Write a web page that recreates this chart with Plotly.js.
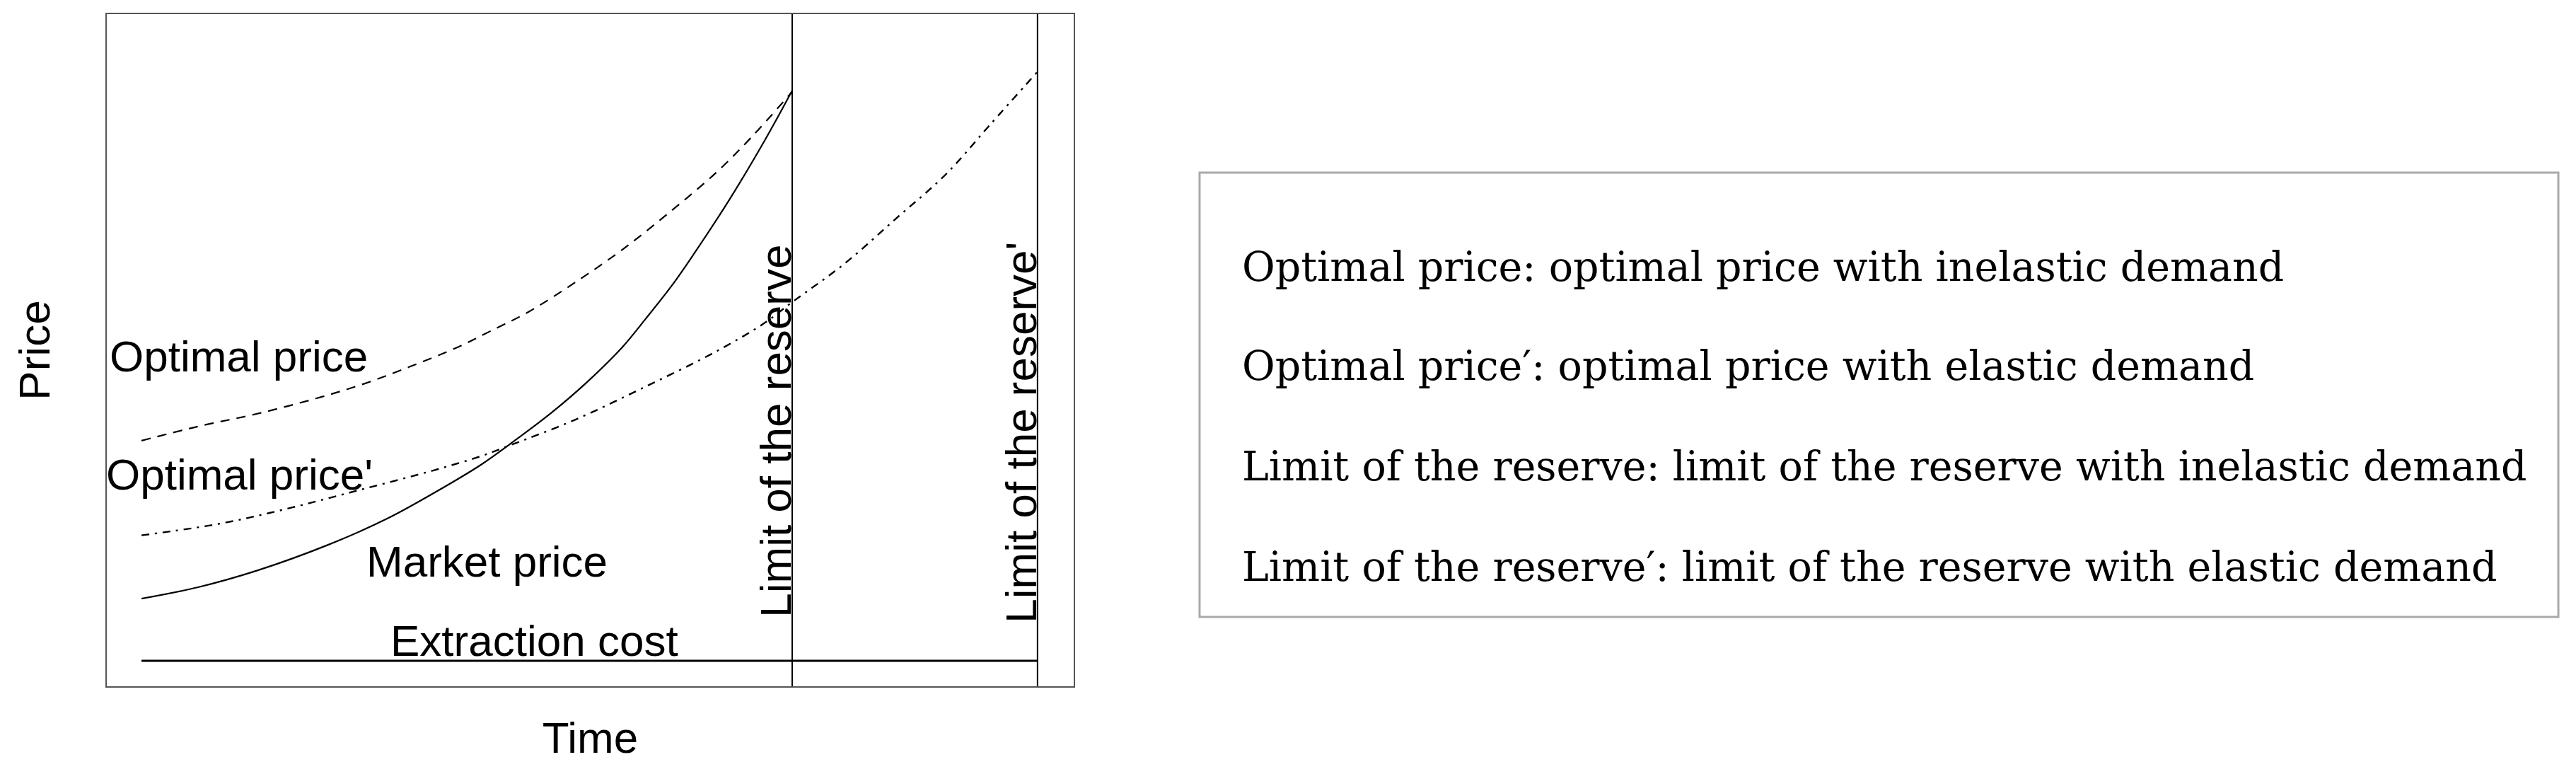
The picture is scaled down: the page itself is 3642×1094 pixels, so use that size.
<!DOCTYPE html>
<html>
<head>
<meta charset="utf-8">
<script src="https://cdn.plot.ly/plotly-3.0.1.min.js"></script>
<style>html,body{margin:0;padding:0;background:#fff;}#chart{width:3642px;height:1094px;}</style>
</head>
<body>
<div id="chart"></div>
<script>
// ---- data (time units, price units) ----
const marketTime  = [0, 0.87, 1.77, 2.86, 3.77, 4.49, 5.22, 5.65, 6.30, 6.85, 7.39, 7.75, 8.15, 8.48, 9.02, 9.57, 10];
const marketPrice = [10.9, 12.9, 15.8, 20.3, 24.9, 29.4, 34.4, 37.9, 43.5, 48.9, 55.0, 60.0, 65.8, 71.2, 80.6, 91.1, 100];

const optimalTime  = [0, 0.87, 1.77, 2.68, 3.40, 4.13, 4.86, 5.36, 5.95, 6.67, 7.39, 8.12, 8.84, 9.38, 10];
const optimalPrice = [38.6, 41.1, 43.3, 46.0, 48.5, 51.6, 55.0, 57.8, 61.2, 66.4, 72.1, 78.7, 85.7, 91.9, 99.8];

const optimal2Time  = [0, 1.23, 2.32, 3.40, 4.49, 5.22, 5.69, 6.67, 7.75, 8.84, 9.57, 10.0, 10.80, 11.59, 12.36, 13.04, 13.77];
const optimal2Price = [22.0, 24.1, 26.9, 30.1, 33.4, 35.9, 37.9, 42.3, 48.1, 54.3, 59.2, 62.9, 69.6, 77.5, 85.3, 94.0, 103.3];

const extractionTime = [0, 13.77];
const extractionCost = [0, 0];

const reserveLimits = [10, 13.77];

const curveLabels = ["Optimal price", "Optimal price'", "Market price", "Extraction cost"];
const curveLabelTime = [-0.51, -0.51, 3.43, 3.80];
const curveLabelPrice = [53.4, 32.7, 17.4, 3.57];

const limitLabels = ["Limit of the reserve", "Limit of the reserve'"];
const limitLabelTime = [9.745, 13.52];
const limitLabelPrice = [40.3, 40.1];

const legendLines = [
  "Optimal price: optimal price with inelastic demand",
  "Optimal price\u2032: optimal price with elastic demand",
  "Limit of the reserve: limit of the reserve with inelastic demand",
  "Limit of the reserve\u2032: limit of the reserve with elastic demand"
];

// ---- chart ----
const sans = "'Liberation Sans', Arial, sans-serif";
const serif = "'DejaVu Serif', serif";

const traces = [
  {x: extractionTime, y: extractionCost, mode: 'lines', line: {color: '#000', width: 3}, hoverinfo: 'skip'},
  {x: optimalTime, y: optimalPrice, mode: 'lines', line: {color: '#000', width: 2.2, dash: '13px,10px', shape: 'spline', smoothing: 1}},
  {x: optimal2Time, y: optimal2Price, mode: 'lines', line: {color: '#000', width: 2.4, dash: '11px,8px,3px,8px', shape: 'spline', smoothing: 1}},
  {x: marketTime, y: marketPrice, mode: 'lines', line: {color: '#000', width: 2.2, shape: 'spline', smoothing: 1}}
];

const shapes = reserveLimits.map(t => ({
  type: 'line', xref: 'x', yref: 'paper', x0: t, x1: t, y0: 0, y1: 1,
  line: {color: '#000', width: 2}
}));
// explanation box
shapes.push({type: 'rect', xref: 'paper', yref: 'paper', x0: 1.1302, x1: 2.5355, y0: 0.1032, y1: 0.7642,
  line: {color: '#aaaaaa', width: 3}, fillcolor: 'rgba(0,0,0,0)'});

const annotations = [];
curveLabels.forEach((txt, i) => {
  annotations.push({x: curveLabelTime[i], y: curveLabelPrice[i], xref: 'x', yref: 'y', text: txt,
    showarrow: false, xanchor: 'left', yanchor: 'middle', xshift: i === 1 ? -5 : 0,
    font: {family: sans, size: 62, color: '#000'}});
});
limitLabels.forEach((txt, i) => {
  annotations.push({x: limitLabelTime[i], y: limitLabelPrice[i], xref: 'x', yref: 'y', text: txt,
    showarrow: false, textangle: -90, xanchor: 'center', yanchor: 'middle',
    font: {family: sans, size: 62, color: '#000'}});
});
const legendY = [0.6246, 0.4764, 0.3274, 0.1775];
legendLines.forEach((txt, i) => {
  annotations.push({x: 1.1727, y: legendY[i], xref: 'paper', yref: 'paper', text: txt,
    showarrow: false, xanchor: 'left', yanchor: 'middle',
    font: {family: serif, size: 57, color: '#000'}});
});

const axisCommon = {
  showgrid: false, zeroline: false, showticklabels: false, ticks: '',
  showline: true, mirror: true, linecolor: '#555', linewidth: 2, fixedrange: true
};

const layout = {
  width: 3642, height: 1094,
  margin: {l: 151, r: 2124, t: 20, b: 124, pad: 0},
  paper_bgcolor: '#fff', plot_bgcolor: '#fff',
  showlegend: false,
  xaxis: Object.assign({}, axisCommon, {range: [-0.533, 14.326],
    title: {text: 'Time', standoff: 50, font: {family: sans, size: 62, color: '#000'}}}),
  yaxis: Object.assign({}, axisCommon, {range: [-4.467, 113.4],
    title: {text: 'Price', standoff: 58, font: {family: sans, size: 62, color: '#000'}}}),
  shapes: shapes,
  annotations: annotations
};

Plotly.newPlot('chart', traces, layout, {displayModeBar: false, staticPlot: true});
</script>
</body>
</html>
